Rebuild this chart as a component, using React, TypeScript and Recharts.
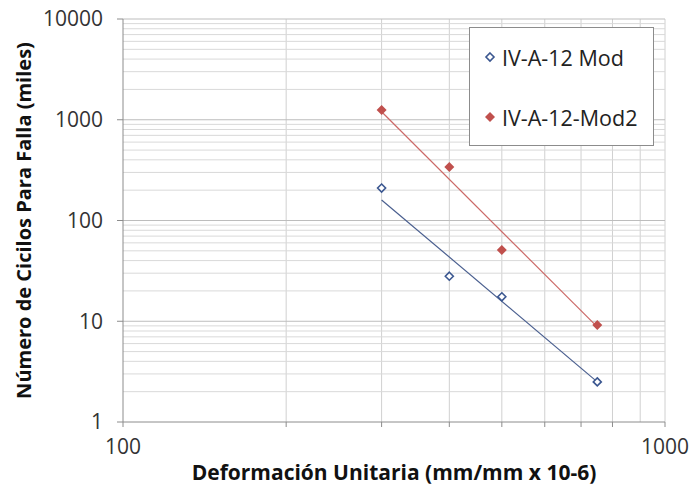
import {
  ScatterChart,
  Scatter,
  XAxis,
  YAxis,
  ReferenceLine,
} from "recharts";

// strain (mm/mm x 10-6)
const strain = [300, 400, 500, 750];
// cycles to failure (thousands)
const modCycles = [210, 28, 17.5, 2.5];
const mod2Cycles = [1250, 340, 51, 9.2];

// trend line end points
const trendStrain = [300, 750];
const modTrend = [160, 2.5];
const mod2Trend = [1200, 8.8];

const xTicks = [100, 200, 300, 400, 500, 600, 700, 800, 900, 1000];
const yTicks = [1, 10, 100, 1000, 10000];
const minorSteps = [2, 3, 4, 5, 6, 7, 8, 9];

const modData = strain.map((x, i) => ({ x, y: modCycles[i] }));
const mod2Data = strain.map((x, i) => ({ x, y: mod2Cycles[i] }));
const modTrendData = trendStrain.map((x, i) => ({ x, y: modTrend[i] }));
const mod2TrendData = trendStrain.map((x, i) => ({ x, y: mod2Trend[i] }));

const yMinor = yTicks.slice(0, -1).flatMap((d) => minorSteps.map((s) => s * d));

const BLUE = "#3b5790";
const RED = "#c0504d";
const FONT = "'Open Sans', sans-serif";

function HollowDiamond(props: any) {
  const { cx, cy } = props;
  if (cx == null || cy == null) return null;
  const r = 4;
  return (
    <polygon
      points={`${cx},${cy - r} ${cx + r},${cy} ${cx},${cy + r} ${cx - r},${cy}`}
      fill="#fff"
      stroke={BLUE}
      strokeWidth={1.6}
    />
  );
}

function FilledDiamond(props: any) {
  const { cx, cy } = props;
  if (cx == null || cy == null) return null;
  const r = 5;
  return (
    <polygon
      points={`${cx},${cy - r} ${cx + r},${cy} ${cx},${cy + r} ${cx - r},${cy}`}
      fill={RED}
    />
  );
}

function LegendBox() {
  return (
    <div
      style={{
        position: "absolute",
        left: 469,
        top: 27,
        width: 185,
        height: 119,
        border: "1px solid #8c8c8c",
        background: "#fff",
        fontFamily: FONT,
        fontSize: 21.5,
        color: "#222",
        boxSizing: "border-box",
        paddingLeft: 13,
        whiteSpace: "nowrap",
      }}
    >
      <div style={{ display: "flex", alignItems: "center", height: 30, marginTop: 14 }}>
        <svg width={14} height={14}>
          <HollowDiamond cx={7} cy={7} />
        </svg>
        <span style={{ marginLeft: 5 }}>IV-A-12 Mod</span>
      </div>
      <div style={{ display: "flex", alignItems: "center", height: 30, marginTop: 30 }}>
        <svg width={14} height={14}>
          <FilledDiamond cx={7} cy={7} />
        </svg>
        <span style={{ marginLeft: 5 }}>IV-A-12-Mod2</span>
      </div>
    </div>
  );
}

export default function App() {
  return (
    <div style={{ position: "absolute", left: 0, top: 0, width: 692, height: 488, background: "#fff" }}>
      <ScatterChart width={692} height={488} margin={{ top: 19, right: 27, bottom: 0, left: 0 }}>
        {xTicks.slice(1).map((v) => (
          <ReferenceLine key={`x${v}`} x={v} stroke="#d0d0d0" strokeWidth={1} />
        ))}
        {yMinor.map((v) => (
          <ReferenceLine key={`ym${v}`} y={v} stroke="#d9d9d9" strokeWidth={1} />
        ))}
        {yTicks.slice(1).map((v) => (
          <ReferenceLine key={`y${v}`} y={v} stroke="#bdbdbd" strokeWidth={1} />
        ))}
        <XAxis
          type="number"
          dataKey="x"
          scale="log"
          domain={[100, 1000]}
          ticks={xTicks}
          allowDataOverflow
          tickFormatter={(v) => (v === 100 || v === 1000 ? String(v) : "")}
          tick={{ fill: "#333", fontSize: 21, fontFamily: FONT }}
          tickLine={{ stroke: "#8c8c8c" }}
          axisLine={{ stroke: "#8c8c8c" }}
          tickSize={5}
          tickMargin={12}
          height={66}
          label={{
            value: "Deformación Unitaria (mm/mm x 10-6)",
            position: "insideBottom",
            offset: 8,
            fill: "#111",
            fontSize: 21,
            fontWeight: 700,
            fontFamily: FONT,
          }}
        />
        <YAxis
          type="number"
          dataKey="y"
          scale="log"
          domain={[1, 10000]}
          ticks={yTicks}
          allowDataOverflow
          tick={{ fill: "#333", fontSize: 21, fontFamily: FONT }}
          tickLine={{ stroke: "#8c8c8c" }}
          axisLine={{ stroke: "#8c8c8c" }}
          tickSize={6}
          tickMargin={14}
          width={123}
          label={{
            value: "Número de Cicilos Para Falla (miles)",
            angle: -90,
            position: "insideLeft",
            offset: 24,
            style: { textAnchor: "middle" },
            fill: "#111",
            fontSize: 20,
            fontWeight: 700,
            fontFamily: FONT,
          }}
        />
        <Scatter
          name="trend1"
          data={modTrendData}
          line={{ stroke: "#4a5f8f", strokeWidth: 1.2 }}
          shape={() => null}
          legendType="none"
          isAnimationActive={false}
        />
        <Scatter
          name="trend2"
          data={mod2TrendData}
          line={{ stroke: "#cc6a68", strokeWidth: 1.2 }}
          shape={() => null}
          legendType="none"
          isAnimationActive={false}
        />
        <Scatter name="IV-A-12 Mod" data={modData} shape={HollowDiamond} isAnimationActive={false} />
        <Scatter name="IV-A-12-Mod2" data={mod2Data} shape={FilledDiamond} isAnimationActive={false} />
      </ScatterChart>
      <LegendBox />
    </div>
  );
}
